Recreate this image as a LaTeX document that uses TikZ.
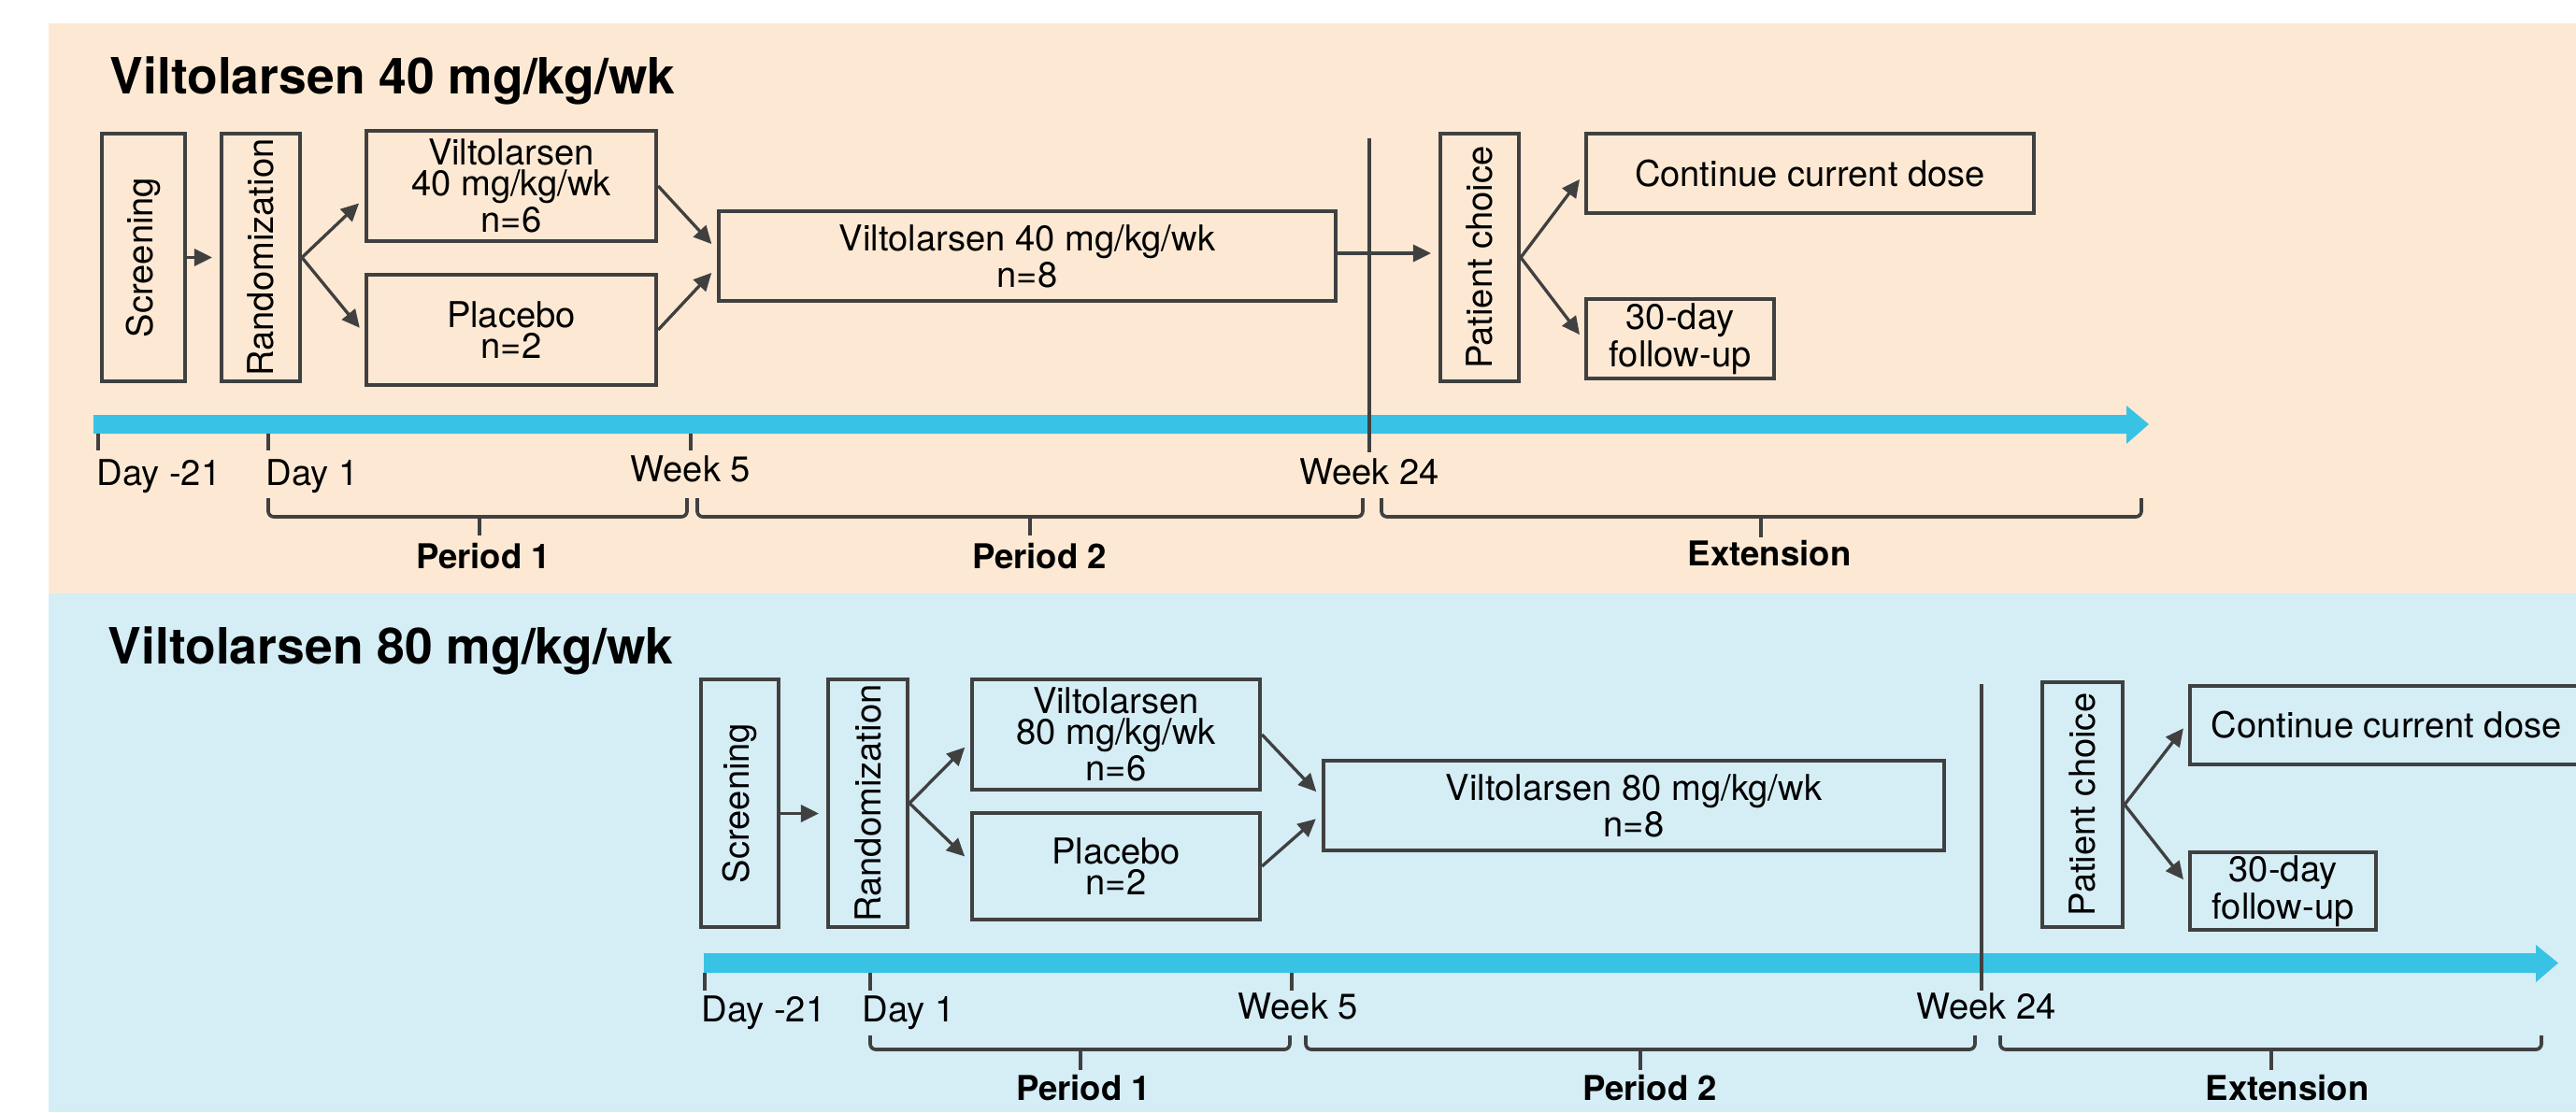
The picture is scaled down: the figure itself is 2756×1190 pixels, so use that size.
\documentclass[tikz,border=0pt]{standalone}
\usepackage{fontspec}
\setmainfont{TeX Gyre Heros}
\usepackage{graphicx}
\usetikzlibrary{arrows.meta,calc}
\definecolor{peach}{HTML}{FDE9D3}
\definecolor{lblue}{HTML}{D5EDF5}
\definecolor{tcyan}{HTML}{38C3E5}
\definecolor{linec}{HTML}{404040}
\newcommand\regf{\fontsize{10.85pt}{9.4pt}\selectfont}
\newcommand\titf{\fontsize{15.2pt}{17pt}\selectfont\bfseries}
\newcommand\perf{\fontsize{10.4pt}{12pt}\selectfont\bfseries}
\begin{document}
\begin{tikzpicture}[x=0.01cm,y=-0.01cm,
 box/.style={draw=linec,line width=1.15pt,inner sep=0pt,align=center,font=\regf},
 conn/.style={draw=linec,line width=0.95pt,-{Triangle[length=0.19cm,width=0.18cm]},shorten >=0.08cm},
 tickline/.style={draw=linec,line width=0.95pt},
 bracket/.style={draw=linec,line width=1.05pt,rounded corners=0.06cm},
 lab/.style={inner sep=0pt,font=\regf},
 per/.style={inner sep=0pt,font=\perf},
 ttl/.style={inner sep=0pt,font=\titf}]
\useasboundingbox (0,0) rectangle (2756,1190);
\clip (0,0) rectangle (2756,1190);
\fill[peach] (52,25) rectangle (2756,635);
\fill[lblue] (52,635) rectangle (2756,1190);

% ---------- top panel ----------
\node[ttl,anchor=base west] (t1) at (117,100) {Viltolarsen 40 mg/kg/wk};

\fill[tcyan] (100,444) -- (2275,444) -- (2275,434) -- (2299,454) -- (2275,475) -- (2275,464) -- (100,464) -- cycle;
\draw[tickline] (105,464) -- (105,482);
\draw[tickline] (287,464) -- (287,482);
\draw[tickline] (739,464) -- (739,482);
\draw[tickline] (1465,148) -- (1465,484);

\node[box,minimum width=0.89cm,minimum height=2.65cm] (scr1) at (153.5,275.5) {\rotatebox{90}{Screening}};
\node[box,minimum width=0.84cm,minimum height=2.65cm] (rand1) at (279,275.5) {\rotatebox{90}{Randomization}};
\node[box,minimum width=3.10cm,minimum height=1.18cm] (v1) at (547,199) {Viltolarsen\\40 mg/kg/wk\\n=6};
\node[box,minimum width=3.10cm,minimum height=1.18cm] (p1) at (547,353) {Placebo\\n=2};
\node[box,minimum width=6.60cm,minimum height=0.96cm] (big1) at (1099,274) {Viltolarsen 40 mg/kg/wk\\n=8};
\node[box,minimum width=0.84cm,minimum height=2.65cm] (pc1) at (1583,275.5) {\rotatebox{90}{Patient choice}};
\node[box,minimum width=4.79cm,minimum height=0.85cm] (cont1) at (1936.5,185.5) {Continue current dose};
\node[box,minimum width=2.01cm,minimum height=0.85cm] (fu1) at (1797.5,362.5) {30-day\\follow-up};

\draw[conn] (scr1.east) -- (rand1.west);
\draw[conn] (rand1.east) -- ($(v1.west)+(0,13)$);
\draw[conn] (rand1.east) -- ($(p1.west)+(0,4)$);
\draw[conn] (v1.east) -- ($(big1.west)+(0,-7)$);
\draw[conn] (p1.east) -- ($(big1.west)+(0,12)$);
\draw[conn] ($(big1.east)+(0,-3)$) -- ($(pc1.west)+(0,-4.5)$);
\draw[conn] (pc1.east) -- (cont1.west);
\draw[conn] (pc1.east) -- ($(fu1.west)+(0,2)$);

\node[lab,anchor=base west] (d21a) at (103,519) {Day -21};
\node[lab,anchor=base west] (d1a) at (284,519) {Day 1};
\node[lab,anchor=base] (w5a) at (739,515) {Week 5};
\node[lab,anchor=base] (w24a) at (1465,518) {Week 24};

\draw[bracket] (287,533) -- (287,553) -- (735,553) -- (735,533);
\draw[tickline,line width=1.05pt] (513,553) -- (513,573);
\draw[bracket] (746,533) -- (746,553) -- (1458,553) -- (1458,533);
\draw[tickline,line width=1.05pt] (1102,553) -- (1102,573);
\draw[bracket] (1478,533) -- (1478,553) -- (2291,553) -- (2291,533);
\draw[tickline,line width=1.05pt] (1884,553) -- (1884,575);
\node[per,anchor=base] (pa1) at (517,608) {Period 1};
\node[per,anchor=base] (pa2) at (1112,608) {Period 2};
\node[per,anchor=base] (pa3) at (1893,605) {Extension};

% ---------- bottom panel ----------
\node[ttl,anchor=base west] (t2) at (115,710) {Viltolarsen 80 mg/kg/wk};

\fill[tcyan] (753,1020) -- (2713,1020) -- (2713,1011) -- (2737,1030.5) -- (2713,1051) -- (2713,1041) -- (753,1041) -- cycle;
\draw[tickline] (754,1041) -- (754,1060);
\draw[tickline] (931,1041) -- (931,1060);
\draw[tickline] (1382,1041) -- (1382,1060);
\draw[tickline] (2120,732) -- (2120,1060);

\node[box,minimum width=0.83cm,minimum height=2.65cm] (scr2) at (791.5,859.5) {\rotatebox{90}{Screening}};
\node[box,minimum width=0.85cm,minimum height=2.65cm] (rand2) at (928.5,859.5) {\rotatebox{90}{Randomization}};
\node[box,minimum width=3.08cm,minimum height=1.18cm] (v2) at (1194,786) {Viltolarsen\\80 mg/kg/wk\\n=6};
\node[box,minimum width=3.08cm,minimum height=1.14cm] (p2) at (1194,927) {Placebo\\n=2};
\node[box,minimum width=6.64cm,minimum height=0.96cm] (big2) at (1748,862) {Viltolarsen 80 mg/kg/wk\\n=8};
\node[box,minimum width=0.86cm,minimum height=2.62cm] (pc2) at (2228,861) {\rotatebox{90}{Patient choice}};
\node[box,minimum width=4.20cm,minimum height=0.84cm] (cont2) at (2553,776) {Continue current dose};
\node[box,minimum width=1.99cm,minimum height=0.83cm] (fu2) at (2442.5,953.5) {30-day\\follow-up};

\draw[conn] ($(scr2.east)+(0,11)$) -- ($(rand2.west)+(0,11)$);
\draw[conn] (rand2.east) -- ($(v2.west)+(0,8)$);
\draw[conn] (rand2.east) -- ($(p2.west)+(0,-5)$);
\draw[conn] (v2.east) -- ($(big2.west)+(0,-9)$);
\draw[conn] (p2.east) -- ($(big2.west)+(0,9)$);
\draw[conn] (pc2.east) -- ($(cont2.west)+(0,-3)$);
\draw[conn] (pc2.east) -- ($(fu2.west)+(0,-6)$);

\node[lab,anchor=base west] (d21b) at (750,1093) {Day -21};
\node[lab,anchor=base west] (d1b) at (922,1093) {Day 1};
\node[lab,anchor=base] (w5b) at (1389,1090) {Week 5};
\node[lab,anchor=base] (w24b) at (2125,1090) {Week 24};

\draw[bracket] (931,1108) -- (931,1123) -- (1380,1123) -- (1380,1108);
\draw[tickline,line width=1.05pt] (1156,1123) -- (1156,1145);
\draw[bracket] (1397,1108) -- (1397,1123) -- (2113,1123) -- (2113,1108);
\draw[tickline,line width=1.05pt] (1755,1123) -- (1755,1145);
\draw[bracket] (2140,1108) -- (2140,1123) -- (2719,1123) -- (2719,1108);
\draw[tickline,line width=1.05pt] (2430,1123) -- (2430,1145);
\node[per,anchor=base] (pb1) at (1159,1177) {Period 1};
\node[per,anchor=base] (pb2) at (1765,1177) {Period 2};
\node[per,anchor=base] (pb3) at (2447,1177) {Extension};
\end{tikzpicture}
\end{document}
